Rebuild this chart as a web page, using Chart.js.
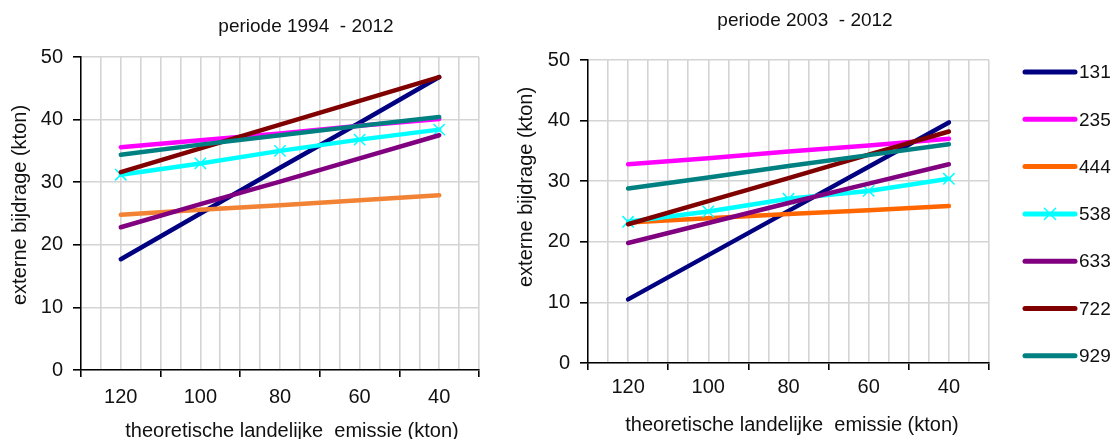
<!DOCTYPE html>
<html>
<head>
<meta charset="utf-8">
<script src="https://cdn.jsdelivr.net/npm/chart.js@4.4.1/dist/chart.umd.min.js"></script>
<style>
  html, body { margin: 0; padding: 0; background: #fff; overflow: hidden; }
  #wrap { position: relative; width: 1116px; height: 439px; }
  canvas { position: absolute; top: 0; }
  #left { left: 0; }
  #right { left: 500px; }
</style>
</head>
<body>
<div id="wrap">
  <canvas id="left" width="500" height="445"></canvas>
  <canvas id="right" width="616" height="439"></canvas>
</div>
<script>
const FONT = '"Liberation Sans", Arial, sans-serif';
const TEXT = '#111';

// x categories: theoretische landelijke emissie (kton)
const emissie = [120, 100, 80, 60, 40];
const stations = ['131', '235', '444', '538', '633', '722', '929'];

// periode 1994 - 2012
const p1994_131 = [17.7, 25.0, 32.3, 39.5, 46.8];
const p1994_235 = [35.6, 36.7, 37.8, 39.0, 40.1];
const p1994_444 = [24.8, 25.6, 26.3, 27.1, 27.9];
const p1994_538 = [31.2, 33.0, 35.0, 36.8, 38.4];
const p1994_633 = [22.8, 26.5, 30.1, 33.8, 37.5];
const p1994_722 = [31.6, 35.4, 39.2, 43.0, 46.8];
const p1994_929 = [34.4, 36.0, 37.5, 39.0, 40.4];

// periode 2003 - 2012
const p2003_131 = [10.5, 17.8, 25.1, 32.4, 39.7];
const p2003_235 = [32.8, 33.8, 34.9, 35.9, 37.0];
const p2003_444 = [23.2, 23.9, 24.6, 25.2, 25.9];
const p2003_538 = [23.3, 25.0, 27.1, 28.4, 30.4];
const p2003_633 = [19.8, 23.1, 26.4, 29.6, 32.8];
const p2003_722 = [22.9, 26.7, 30.5, 34.4, 38.2];
const p2003_929 = [28.8, 30.6, 32.5, 34.3, 36.1];

const yTicks = [0, 10, 20, 30, 40, 50];

const colorsLeft = ['#000080', '#FF00FF', '#F28234', '#00FFFF', '#800080', '#800000', '#008080'];
const colorsRight = ['#000080', '#FF00FF', '#FF6600', '#00FFFF', '#800080', '#800000', '#008080'];

/**
 * Free text (titles) drawn on the canvas
 */
function textPlugin(items) {
    return {
        id: 'panelText',
        afterDraw(chart) {
            const ctx = chart.ctx;
            items.forEach(it => {
                ctx.save();
                ctx.fillStyle = TEXT;
                ctx.font = it.size + 'px ' + FONT;
                ctx.textAlign = 'center';
                ctx.textBaseline = 'middle';
                ctx.translate(it.x, it.y);
                if (it.rotate) ctx.rotate(-Math.PI / 2);
                ctx.fillText(it.text, 0, 0);
                ctx.restore();
            });
        }
    };
}

/**
 * Legend on the right side of the second chart
 */
const sideLegend = {
    id: 'sideLegend',
    afterDraw(chart) {
        const ctx = chart.ctx;
        chart.data.datasets.forEach((ds, i) => {
            const y = 72 + i * 47.3;
            ctx.save();
            ctx.strokeStyle = ds.borderColor;
            ctx.lineWidth = 5;
            ctx.lineCap = 'round';
            ctx.beginPath();
            ctx.moveTo(525, y);
            ctx.lineTo(575, y);
            ctx.stroke();
            if (ds.pointRadius > 0) {
                const r = ds.pointRadius * 0.7;
                ctx.lineWidth = 1.5;
                ctx.beginPath();
                ctx.moveTo(550 - r, y - r); ctx.lineTo(550 + r, y + r);
                ctx.moveTo(550 - r, y + r); ctx.lineTo(550 + r, y - r);
                ctx.stroke();
            }
            ctx.fillStyle = TEXT;
            ctx.font = '19px ' + FONT;
            ctx.textAlign = 'left';
            ctx.textBaseline = 'middle';
            ctx.fillText(ds.label, 579, y + 1);
            ctx.restore();
        });
    }
};

function makeChart(canvasId, series, colors, box, texts, extraPlugins = []) {
    const datasets = series.map((vals, i) => ({
        label: stations[i],
        data: vals.map((v, k) => ({ x: emissie[k], y: v })),
        borderColor: colors[i],
        backgroundColor: colors[i],
        borderWidth: 4.5,
        borderCapStyle: 'round',
        tension: 0,
        pointStyle: 'crossRot',
        pointRadius: stations[i] === '538' ? 8 : 0,
        pointBorderWidth: 1.5,
        pointBorderColor: colors[i],
        order: series.length - i // later series on top, like the original
    }));

    const ctx = document.getElementById(canvasId).getContext('2d');
    return new Chart(ctx, {
        type: 'line',
        data: { datasets },
        options: {
            responsive: false,
            animation: false,
            devicePixelRatio: 1,
            layout: { padding: { top: box.top, right: box.right, left: 0, bottom: 0 } },
            plugins: {
                legend: { display: false },
                tooltip: { enabled: false },
                title: { display: false }
            },
            scales: {
                x: {
                    type: 'linear',
                    reverse: true,
                    min: 30,
                    max: 130,
                    afterFit: s => { s.height = box.xHeight; },
                    ticks: {
                        stepSize: 5,
                        autoSkip: false,
                        maxRotation: 0,
                        padding: box.xTickPad,
                        color: TEXT,
                        font: { family: FONT, size: 20 },
                        callback: v => emissie.includes(v) ? String(v) : ''
                    },
                    grid: {
                        color: '#d4d4d4',
                        lineWidth: 1.6,
                        tickLength: 7,
                        tickColor: c => (c.tick && c.tick.value % 20 === 10) ? '#000' : 'rgba(0,0,0,0)'
                    },
                    border: { color: '#000', width: 1.5 }
                },
                y: {
                    min: 0,
                    max: 50,
                    afterFit: s => { s.width = box.yWidth; },
                    afterBuildTicks: s => { s.ticks = yTicks.map(v => ({ value: v })); },
                    ticks: {
                        padding: 10,
                        color: TEXT,
                        font: { family: FONT, size: 20 }
                    },
                    grid: {
                        color: '#d4d4d4',
                        lineWidth: 1.6,
                        tickLength: 8,
                        tickColor: '#000'
                    },
                    border: { color: '#000', width: 1.5 }
                }
            }
        },
        plugins: [textPlugin(texts), ...extraPlugins]
    });
}

makeChart('left',
    [p1994_131, p1994_235, p1994_444, p1994_538, p1994_633, p1994_722, p1994_929],
    colorsLeft,
    { top: 57, right: 21, yWidth: 81, xHeight: 75, xTickPad: 8 },
    [
        { text: 'periode 1994  - 2012', x: 306, y: 27, size: 19 },
        { text: 'externe bijdrage (kton)', x: 20, y: 205, size: 20, rotate: true },
        { text: 'theoretische landelijke  emissie (kton)', x: 292, y: 431, size: 20 }
    ]
);

makeChart('right',
    [p2003_131, p2003_235, p2003_444, p2003_538, p2003_633, p2003_722, p2003_929],
    colorsRight,
    { top: 60, right: 127, yWidth: 88, xHeight: 76, xTickPad: 5 },
    [
        { text: 'periode 2003  - 2012', x: 305, y: 21, size: 19 },
        { text: 'externe bijdrage (kton)', x: 26, y: 187, size: 20, rotate: true },
        { text: 'theoretische landelijke  emissie (kton)', x: 292, y: 425, size: 20 }
    ],
    [sideLegend]
);
</script>
</body>
</html>
